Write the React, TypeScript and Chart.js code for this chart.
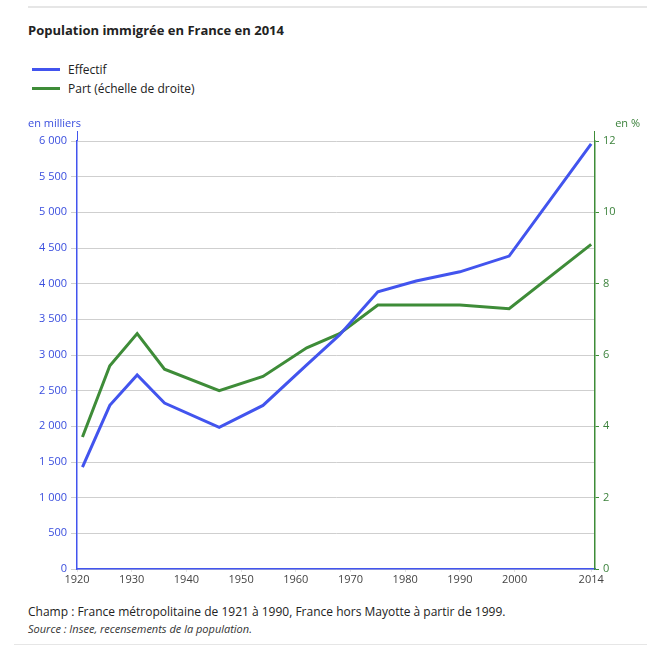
import React, { useEffect, useRef } from "react";
import { Chart, registerables } from "chart.js";

Chart.register(...registerables);

const years = [1921, 1926, 1931, 1936, 1946, 1954, 1962, 1968, 1975, 1982, 1990, 1999, 2014];
const effectif = [1429, 2294, 2720, 2326, 1986, 2293, 2861, 3281, 3887, 4037, 4166, 4387, 5960];
const part = [3.7, 5.7, 6.6, 5.6, 5.0, 5.4, 6.2, 6.6, 7.4, 7.4, 7.4, 7.3, 9.1];
const xTicks = [1920, 1930, 1940, 1950, 1960, 1970, 1980, 1990, 2000, 2014];

const BLUE = "rgb(66,84,238)";
const BLUE_TXT = "rgb(58,78,222)";
const GREEN = "rgb(62,140,56)";
const GREEN_TXT = "rgb(60,130,60)";
const FONT = "'Open Sans', 'Noto Sans', sans-serif";

const fmt = (v: number) => String(v).replace(/\B(?=(\d{3})+(?!\d))/g, " ");

const extras = {
  id: "extras",
  afterDraw(chart: any) {
    const { ctx, chartArea } = chart;
    ctx.save();
    ctx.font = `11px ${FONT}`;
    ctx.textBaseline = "middle";
    ctx.fillStyle = BLUE_TXT;
    ctx.textAlign = "left";
    ctx.fillText("en milliers", 28, 14);
    ctx.fillStyle = GREEN_TXT;
    ctx.textAlign = "right";
    ctx.fillText("en %", 640, 14);
    ctx.lineWidth = 1;
    ctx.strokeStyle = BLUE;
    ctx.beginPath();
    ctx.moveTo(chartArea.left + 0.5, chartArea.top - 10);
    ctx.lineTo(chartArea.left + 0.5, chartArea.top);
    ctx.stroke();
    ctx.strokeStyle = GREEN;
    ctx.beginPath();
    ctx.moveTo(chartArea.right - 0.5, chartArea.top - 10);
    ctx.lineTo(chartArea.right - 0.5, chartArea.top);
    ctx.stroke();
    ctx.restore();
  },
};

export default function App() {
  const ref = useRef<HTMLCanvasElement>(null);

  useEffect(() => {
    if (!ref.current) return;
    const chart = new Chart(ref.current, {
      type: "line",
      data: {
        datasets: [
          {
            label: "Effectif",
            data: years.map((y, i) => ({ x: y, y: effectif[i] })),
            borderColor: BLUE,
            backgroundColor: BLUE,
            borderWidth: 3,
            pointRadius: 0,
            tension: 0,
            yAxisID: "y",
          },
          {
            label: "Part (échelle de droite)",
            data: years.map((y, i) => ({ x: y, y: part[i] })),
            borderColor: GREEN,
            backgroundColor: GREEN,
            borderWidth: 3,
            pointRadius: 0,
            tension: 0,
            yAxisID: "y1",
          },
        ],
      },
      options: {
        responsive: false,
        animation: false,
        layout: { padding: { top: 31, left: 0, right: 0, bottom: 0 } },
        plugins: {
          legend: { display: false },
          title: { display: false },
          tooltip: { enabled: false },
        },
        scales: {
          x: {
            type: "linear",
            min: 1920,
            max: 2014.7,
            afterBuildTicks: (s: any) => {
              s.ticks = xTicks.map((v) => ({ value: v }));
            },
            afterFit: (s: any) => {
              s.height = 19;
            },
            grid: { drawOnChartArea: false, tickLength: 3, color: "#e2e2e2" },
            border: { color: BLUE, width: 1.5 },
            ticks: {
              padding: 1,
              maxRotation: 0,
              autoSkip: false,
              color: "#444",
              font: { family: FONT, size: 11 },
              callback: (v: any) => String(v),
            },
          },
          y: {
            position: "left",
            min: 0,
            max: 6000,
            afterFit: (s: any) => {
              s.width = 77;
            },
            ticks: {
              stepSize: 500,
              padding: 4,
              color: BLUE_TXT,
              font: { family: FONT, size: 11 },
              callback: (v: any) => fmt(Number(v)),
            },
            grid: { color: "#cfcfcf", tickLength: 6, lineWidth: 1 },
            border: { color: BLUE, width: 1.5 },
          },
          y1: {
            position: "right",
            min: 0,
            max: 12,
            afterFit: (s: any) => {
              s.width = 52;
            },
            ticks: {
              stepSize: 2,
              padding: 4,
              color: GREEN_TXT,
              font: { family: FONT, size: 11 },
            },
            grid: { drawOnChartArea: false, tickLength: 4, color: GREEN },
            border: { color: GREEN, width: 1.5 },
          },
        },
      },
      plugins: [extras],
    });
    return () => chart.destroy();
  }, []);

  return (
    <div
      style={{
        position: "absolute",
        left: 0,
        top: 0,
        width: 647,
        height: 648,
        background: "#fff",
        fontFamily: FONT,
        color: "#222",
        overflow: "hidden",
      }}
    >
      <div style={{ position: "absolute", left: 28, right: 0, top: 6, height: 2, background: "#e6e6e6" }} />
      <div style={{ position: "absolute", left: 28, top: 21, fontSize: 13, fontWeight: 700, lineHeight: "18px" }}>
        Population immigrée en France en 2014
      </div>
      <div style={{ position: "absolute", left: 32, top: 60, fontSize: 12, lineHeight: "18px" }}>
        <div style={{ display: "flex", alignItems: "center", height: 19 }}>
          <span style={{ display: "inline-block", width: 28, height: 3, background: BLUE, marginRight: 8 }} />
          <span>Effectif</span>
        </div>
        <div style={{ display: "flex", alignItems: "center", height: 19 }}>
          <span style={{ display: "inline-block", width: 28, height: 3, background: GREEN, marginRight: 8 }} />
          <span>Part (échelle de droite)</span>
        </div>
      </div>
      <canvas
        ref={ref}
        width={647}
        height={478}
        style={{ position: "absolute", left: 0, top: 110, width: 647, height: 478 }}
      />
      <div style={{ position: "absolute", left: 28, top: 603, fontSize: 12, lineHeight: "17px" }}>
        Champ : France métropolitaine de 1921 à 1990, France hors Mayotte à partir de 1999.
      </div>
      <div style={{ position: "absolute", left: 28, top: 621, fontSize: 11, fontStyle: "italic", lineHeight: "16px", color: "#333" }}>
        Source : Insee, recensements de la population.
      </div>
      <div style={{ position: "absolute", left: 14, right: 0, top: 644, height: 1, background: "#e6e6e6" }} />
    </div>
  );
}
